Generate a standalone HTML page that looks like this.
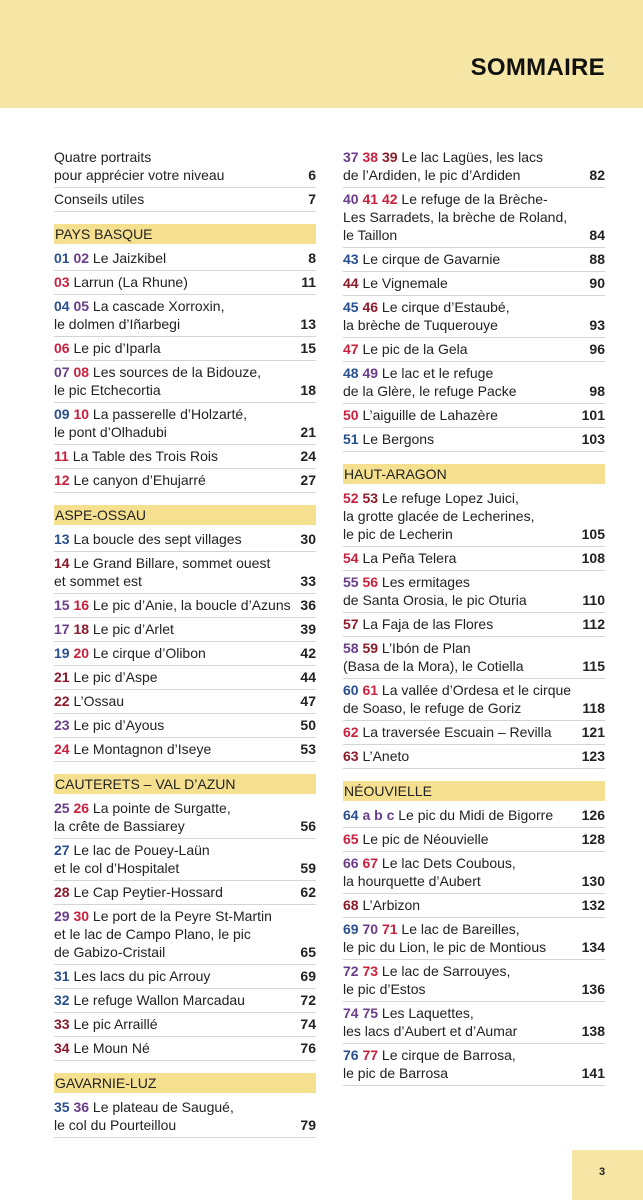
<!DOCTYPE html>
<html><head><meta charset="utf-8">
<style>
*{margin:0;padding:0;box-sizing:border-box}
body{width:643px;height:1200px;background:#fff;position:relative;overflow:hidden;font-family:"Liberation Sans","DejaVu Sans",sans-serif;color:#222;font-size:14px}
#top{position:absolute;left:0;top:0;width:643px;height:108px;background:#f7e7a6}
#title{position:absolute;right:38px;top:54px;font-size:24px;font-weight:bold;color:#111;letter-spacing:0.3px}
#pg{position:absolute;left:572px;top:1150px;width:71px;height:50px;background:#f7e7a6;font-size:11px;font-weight:bold;padding:16px 0 0 27px}
.col{position:absolute;top:146px;width:262px}
#L{left:54px}#R{left:343px}
.e{display:flex;justify-content:space-between;align-items:flex-end;line-height:18px;padding:2px 0 3px;border-bottom:1px solid #d4d4d4}
.e .p{font-weight:bold;white-space:nowrap;margin-left:6px}
.s{background:#f5e08f;height:20px;line-height:20px;padding-left:1px;margin-top:12px;margin-bottom:3px;font-size:14px}
.n{font-weight:bold}
.b{color:#2a4f8f}.u{color:#6a3d8a}.r{color:#c8213e}.d{color:#8b1a2a}
</style></head><body>
<div id="top"><div id="title">SOMMAIRE</div></div>
<div id="L" class="col">
<div class="e"><span>Quatre portraits<br>pour apprécier votre niveau</span><span class="p">6</span></div>
<div class="e"><span>Conseils utiles</span><span class="p">7</span></div>
<div class="s">PAYS BASQUE</div>
<div class="e"><span><b class="b">01</b> <b class="u">02</b> Le Jaizkibel</span><span class="p">8</span></div>
<div class="e"><span><b class="r">03</b> Larrun (La Rhune)</span><span class="p">11</span></div>
<div class="e"><span><b class="b">04</b> <b class="u">05</b> La cascade Xorroxin,<br>le dolmen d’Iñarbegi</span><span class="p">13</span></div>
<div class="e"><span><b class="r">06</b> Le pic d’Iparla</span><span class="p">15</span></div>
<div class="e"><span><b class="u">07</b> <b class="r">08</b> Les sources de la Bidouze,<br>le pic Etchecortia</span><span class="p">18</span></div>
<div class="e"><span><b class="b">09</b> <b class="r">10</b> La passerelle d’Holzarté,<br>le pont d’Olhadubi</span><span class="p">21</span></div>
<div class="e"><span><b class="r">11</b> La Table des Trois Rois</span><span class="p">24</span></div>
<div class="e"><span><b class="r">12</b> Le canyon d’Ehujarré</span><span class="p">27</span></div>
<div class="s">ASPE-OSSAU</div>
<div class="e"><span><b class="b">13</b> La boucle des sept villages</span><span class="p">30</span></div>
<div class="e"><span><b class="d">14</b> Le Grand Billare, sommet ouest<br>et sommet est</span><span class="p">33</span></div>
<div class="e"><span><b class="u">15</b> <b class="r">16</b> Le pic d’Anie, la boucle d’Azuns</span><span class="p">36</span></div>
<div class="e"><span><b class="u">17</b> <b class="d">18</b> Le pic d’Arlet</span><span class="p">39</span></div>
<div class="e"><span><b class="b">19</b> <b class="r">20</b> Le cirque d’Olibon</span><span class="p">42</span></div>
<div class="e"><span><b class="d">21</b> Le pic d’Aspe</span><span class="p">44</span></div>
<div class="e"><span><b class="d">22</b> L’Ossau</span><span class="p">47</span></div>
<div class="e"><span><b class="u">23</b> Le pic d’Ayous</span><span class="p">50</span></div>
<div class="e"><span><b class="r">24</b> Le Montagnon d’Iseye</span><span class="p">53</span></div>
<div class="s">CAUTERETS – VAL D’AZUN</div>
<div class="e"><span><b class="u">25</b> <b class="r">26</b> La pointe de Surgatte,<br>la crête de Bassiarey</span><span class="p">56</span></div>
<div class="e"><span><b class="b">27</b> Le lac de Pouey-Laün<br>et le col d’Hospitalet</span><span class="p">59</span></div>
<div class="e"><span><b class="d">28</b> Le Cap Peytier-Hossard</span><span class="p">62</span></div>
<div class="e"><span><b class="u">29</b> <b class="r">30</b> Le port de la Peyre St-Martin<br>et le lac de Campo Plano, le pic<br>de Gabizo-Cristail</span><span class="p">65</span></div>
<div class="e"><span><b class="b">31</b> Les lacs du pic Arrouy</span><span class="p">69</span></div>
<div class="e"><span><b class="b">32</b> Le refuge Wallon Marcadau</span><span class="p">72</span></div>
<div class="e"><span><b class="d">33</b> Le pic Arraillé</span><span class="p">74</span></div>
<div class="e"><span><b class="d">34</b> Le Moun Né</span><span class="p">76</span></div>
<div class="s">GAVARNIE-LUZ</div>
<div class="e"><span><b class="b">35</b> <b class="u">36</b> Le plateau de Saugué,<br>le col du Pourteillou</span><span class="p">79</span></div>
</div>
<div id="R" class="col">
<div class="e"><span><b class="u">37</b> <b class="r">38</b> <b class="d">39</b> Le lac Lagües, les lacs<br>de l’Ardiden, le pic d’Ardiden</span><span class="p">82</span></div>
<div class="e"><span><b class="u">40</b> <b class="r">41</b> <b class="r">42</b> Le refuge de la Brèche-<br>Les Sarradets, la brèche de Roland,<br>le Taillon</span><span class="p">84</span></div>
<div class="e"><span><b class="b">43</b> Le cirque de Gavarnie</span><span class="p">88</span></div>
<div class="e"><span><b class="d">44</b> Le Vignemale</span><span class="p">90</span></div>
<div class="e"><span><b class="b">45</b> <b class="d">46</b> Le cirque d’Estaubé,<br>la brèche de Tuquerouye</span><span class="p">93</span></div>
<div class="e"><span><b class="r">47</b> Le pic de la Gela</span><span class="p">96</span></div>
<div class="e"><span><b class="b">48</b> <b class="u">49</b> Le lac et le refuge<br>de la Glère, le refuge Packe</span><span class="p">98</span></div>
<div class="e"><span><b class="r">50</b> L’aiguille de Lahazère</span><span class="p">101</span></div>
<div class="e"><span><b class="b">51</b> Le Bergons</span><span class="p">103</span></div>
<div class="s">HAUT-ARAGON</div>
<div class="e"><span><b class="r">52</b> <b class="d">53</b> Le refuge Lopez Juici,<br>la grotte glacée de Lecherines,<br>le pic de Lecherin</span><span class="p">105</span></div>
<div class="e"><span><b class="r">54</b> La Peña Telera</span><span class="p">108</span></div>
<div class="e"><span><b class="u">55</b> <b class="r">56</b> Les ermitages<br>de Santa Orosia, le pic Oturia</span><span class="p">110</span></div>
<div class="e"><span><b class="d">57</b> La Faja de las Flores</span><span class="p">112</span></div>
<div class="e"><span><b class="u">58</b> <b class="d">59</b> L’Ibón de Plan<br>(Basa de la Mora), le Cotiella</span><span class="p">115</span></div>
<div class="e"><span><b class="b">60</b> <b class="r">61</b> La vallée d’Ordesa et le cirque<br>de Soaso, le refuge de Goriz</span><span class="p">118</span></div>
<div class="e"><span><b class="r">62</b> La traversée Escuain – Revilla</span><span class="p">121</span></div>
<div class="e"><span><b class="d">63</b> L’Aneto</span><span class="p">123</span></div>
<div class="s">NÉOUVIELLE</div>
<div class="e"><span><b class="b">64</b> <b class="u">a b c</b> Le pic du Midi de Bigorre</span><span class="p">126</span></div>
<div class="e"><span><b class="r">65</b> Le pic de Néouvielle</span><span class="p">128</span></div>
<div class="e"><span><b class="u">66</b> <b class="r">67</b> Le lac Dets Coubous,<br>la hourquette d’Aubert</span><span class="p">130</span></div>
<div class="e"><span><b class="d">68</b> L’Arbizon</span><span class="p">132</span></div>
<div class="e"><span><b class="b">69</b> <b class="u">70</b> <b class="r">71</b> Le lac de Bareilles,<br>le pic du Lion, le pic de Montious</span><span class="p">134</span></div>
<div class="e"><span><b class="u">72</b> <b class="r">73</b> Le lac de Sarrouyes,<br>le pic d’Estos</span><span class="p">136</span></div>
<div class="e"><span><b class="u">74</b> <b class="u">75</b> Les Laquettes,<br>les lacs d’Aubert et d’Aumar</span><span class="p">138</span></div>
<div class="e"><span><b class="b">76</b> <b class="r">77</b> Le cirque de Barrosa,<br>le pic de Barrosa</span><span class="p">141</span></div>
</div>
<div id="pg">3</div>
</body></html>
